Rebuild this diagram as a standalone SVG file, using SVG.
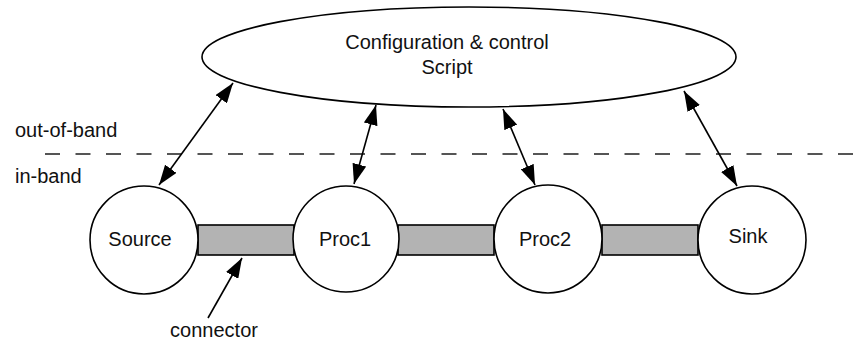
<svg xmlns="http://www.w3.org/2000/svg" width="857" height="341" viewBox="0 0 857 341">
  <defs>
    <marker id="arrow" viewBox="0 0 20 14" refX="20" refY="7" markerWidth="20" markerHeight="14" markerUnits="userSpaceOnUse" orient="auto-start-reverse">
      <path d="M0,0 L20,7 L0,14 z" fill="#000"/>
    </marker>
  </defs>
  <style>
    text { font-family: "Liberation Sans", Arial, sans-serif; font-size: 20px; fill: #111; }
    .node { fill: #fff; stroke: #000; stroke-width: 1.6; }
    .pipe { fill: #b3b3b3; stroke: #000; stroke-width: 1.6; }
    .link { stroke: #000; stroke-width: 1.6; fill: none; }
    .band { stroke: #555; stroke-width: 2; stroke-dasharray: 15 15.5; fill: none; }
  </style>
  <rect width="857" height="341" fill="#fff"/>

  <!-- band separator -->
  <line class="band" x1="45" y1="154" x2="857" y2="154"/>
  <text x="15" y="137">out-of-band</text>
  <text x="15" y="183">in-band</text>

  <!-- control script -->
  <g id="script">
    <ellipse class="node" cx="469" cy="57" rx="267" ry="50"/>
    <text x="447" y="49" text-anchor="middle">Configuration &amp; control</text>
    <text x="447" y="74" text-anchor="middle">Script</text>
  </g>

  <!-- pipes between stages -->
  <g id="pipes">
    <rect class="pipe" x="198" y="225" width="96" height="30"/>
    <rect class="pipe" x="398" y="225" width="96" height="30"/>
    <rect class="pipe" x="602" y="225" width="96" height="30"/>
  </g>

  <g id="source">
    <circle class="node" cx="144" cy="240" r="54"/>
    <text x="140" y="246" text-anchor="middle">Source</text>
  </g>
  <g id="proc1">
    <circle class="node" cx="346" cy="239" r="53"/>
    <text x="345" y="246" text-anchor="middle">Proc1</text>
  </g>
  <g id="proc2">
    <circle class="node" cx="548" cy="239" r="54"/>
    <text x="545" y="246" text-anchor="middle">Proc2</text>
  </g>
  <g id="sink">
    <circle class="node" cx="752" cy="240" r="54"/>
    <text x="748" y="243" text-anchor="middle">Sink</text>
  </g>

  <text x="214" y="337" text-anchor="middle">connector</text>

  <!-- control links and label pointer -->
  <g id="connectors">
    <line class="link" x1="233" y1="83" x2="159" y2="185" marker-start="url(#arrow)" marker-end="url(#arrow)"/>
    <line class="link" x1="376" y1="105" x2="354" y2="184" marker-start="url(#arrow)" marker-end="url(#arrow)"/>
    <line class="link" x1="503" y1="109" x2="535" y2="185" marker-start="url(#arrow)" marker-end="url(#arrow)"/>
    <line class="link" x1="684" y1="91" x2="737" y2="186" marker-start="url(#arrow)" marker-end="url(#arrow)"/>
    <line class="link" x1="208" y1="318" x2="242" y2="258" marker-end="url(#arrow)"/>
  </g>
</svg>
